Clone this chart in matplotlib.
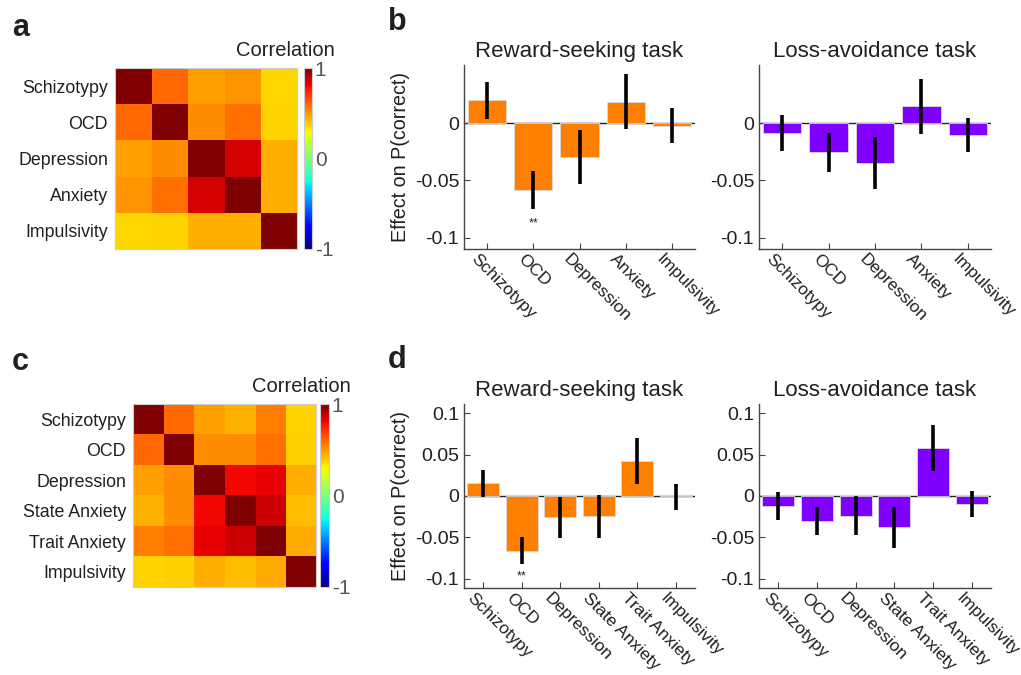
import numpy as np
import matplotlib
matplotlib.use("Agg")
import matplotlib.pyplot as plt
import matplotlib.transforms as mtrans

plt.rcParams['font.family'] = ['Liberation Sans', 'DejaVu Sans']

# correlation matrices
labels_a = ['Schizotypy', 'OCD', 'Depression', 'Anxiety', 'Impulsivity']
corr_a = [
    [1.00, 0.60, 0.48, 0.50, 0.36],
    [0.60, 1.00, 0.52, 0.58, 0.37],
    [0.48, 0.52, 1.00, 0.85, 0.45],
    [0.50, 0.58, 0.85, 1.00, 0.45],
    [0.36, 0.37, 0.45, 0.45, 1.00],
]

labels_c = ['Schizotypy', 'OCD', 'Depression', 'State Anxiety', 'Trait Anxiety', 'Impulsivity']
corr_c = [
    [1.00, 0.60, 0.48, 0.44, 0.55, 0.37],
    [0.60, 1.00, 0.52, 0.52, 0.58, 0.38],
    [0.48, 0.52, 1.00, 0.80, 0.82, 0.45],
    [0.44, 0.52, 0.80, 1.00, 0.86, 0.42],
    [0.55, 0.58, 0.82, 0.86, 1.00, 0.46],
    [0.37, 0.38, 0.45, 0.42, 0.46, 1.00],
]

# effects (bar value, error half-width)
reward_b = [0.020, -0.0585, -0.0295, 0.0190, -0.0020]
reward_b_err = [0.016, 0.0165, 0.024, 0.024, 0.015]
loss_b = [-0.0085, -0.0255, -0.0345, 0.0150, -0.0105]
loss_b_err = [0.016, 0.0167, 0.0228, 0.0240, 0.0147]

reward_d = [0.0153, -0.0658, -0.0257, -0.0245, 0.0422, -0.0012]
reward_d_err = [0.0165, 0.0168, 0.0248, 0.0262, 0.0283, 0.0155]
loss_d = [-0.0117, -0.0297, -0.0237, -0.0378, 0.0574, -0.0096]
loss_d_err = [0.0168, 0.0170, 0.0235, 0.0250, 0.0278, 0.0155]

ORANGE = '#FF8000'
PURPLE = '#8000FF'
TXT = '#231F20'
LAB = 12.5

fig = plt.figure(figsize=(10.21, 6.75), dpi=100)
W, H = 1021.0, 675.0


def px_axes(x0, y0, x1, y1):
    return fig.add_axes([x0 / W, 1 - y1 / H, (x1 - x0) / W, (y1 - y0) / H])


def heatmap(box, cbox, labels, mat, corr_xy):
    ax = px_axes(*box)
    im = ax.imshow(np.array(mat), cmap='jet', vmin=-1, vmax=1, aspect='auto')
    ax.set_xticks([])
    ax.set_yticks(range(len(labels)))
    ax.set_yticklabels(labels, fontsize=12.8, color=TXT)
    ax.tick_params(axis='y', length=0, pad=5)
    for s in ax.spines.values():
        s.set_color('#cccccc')
        s.set_linewidth(0.8)
    cax = px_axes(*cbox)
    cb = fig.colorbar(im, cax=cax, ticks=[-1, 0, 1])
    cb.ax.set_yticklabels(['-1', '0', '1'])
    cb.ax.tick_params(length=0, labelsize=15, labelcolor='#555555', pad=2)
    cb.outline.set_edgecolor('#cccccc')
    cb.outline.set_linewidth(0.8)
    fig.text(corr_xy[0] / W, 1 - corr_xy[1] / H, 'Correlation', ha='right',
             va='center', fontsize=14.5, color=TXT)


def bars(box, labels, vals, errs, color, ylim, yticks, ytl, title, ylabel, star=None):
    ax = px_axes(*box)
    x = np.arange(1, len(labels) + 1)
    ax.bar(x, vals, width=0.83, color=color, edgecolor='#d9d9d9', linewidth=0.6, zorder=2)
    ax.errorbar(x, vals, yerr=errs, fmt='none', ecolor='black', elinewidth=2.6,
                capsize=0, zorder=3)
    ax.axhline(0, color='#222222', linewidth=1.0, zorder=1)
    ax.set_xlim(0.5, len(labels) + 0.5)
    ax.set_ylim(*ylim)
    ax.set_yticks(yticks)
    ax.set_yticklabels(ytl)
    ax.set_xticks(x)
    ax.set_xticklabels(labels, rotation=-45, ha='left', va='top', rotation_mode='anchor')
    ax.tick_params(direction='in', length=4, width=0.8, colors='#444444',
                   labelsize=14, labelcolor=TXT)
    ax.tick_params(axis='x', pad=2, labelsize=LAB)
    shift = mtrans.ScaledTranslation(-8 / 100, 0, fig.dpi_scale_trans)
    for lab in ax.get_xticklabels():
        lab.set_transform(lab.get_transform() + shift)
    for s in ['top', 'right']:
        ax.spines[s].set_visible(False)
    for s in ['left', 'bottom']:
        ax.spines[s].set_color('#444444')
        ax.spines[s].set_linewidth(1.0)
    ax.set_title(title, fontsize=16, color=TXT, pad=6)
    if ylabel:
        ax.set_ylabel(ylabel, fontsize=14.2, color=TXT, labelpad=3)
    if star is not None:
        i = star
        ax.text(x[i], vals[i] - errs[i] - 0.007, '**', ha='center', va='top',
                fontsize=9, color=TXT)
    return ax


heatmap((115, 68, 297, 249), (304, 68, 312, 249), labels_a, corr_a, (335, 50))
heatmap((133, 404, 316, 587), (320, 404, 329, 587), labels_c, corr_c, (351, 387))

yt_b = [-0.1, -0.05, 0]
bars((464, 65, 695, 249), labels_a, reward_b, reward_b_err, ORANGE, (-0.11, 0.051),
     yt_b, ['-0.1', '-0.05', '0'], 'Reward-seeking task', 'Effect on P(correct)', star=1)
bars((759, 65, 991, 249), labels_a, loss_b, loss_b_err, PURPLE, (-0.11, 0.051),
     yt_b, ['-0.1', '-0.05', '0'], 'Loss-avoidance task', None)

yt_d = [-0.1, -0.05, 0, 0.05, 0.1]
ytl_d = ['-0.1', '-0.05', '0', '0.05', '0.1']
bars((464, 404, 695, 588), labels_c, reward_d, reward_d_err, ORANGE, (-0.111, 0.111),
     yt_d, ytl_d, 'Reward-seeking task', 'Effect on P(correct)', star=1)
bars((759, 404, 991, 588), labels_c, loss_d, loss_d_err, PURPLE, (-0.111, 0.111),
     yt_d, ytl_d, 'Loss-avoidance task', None)

for letter, (lx, ly) in {'a': (12, 28), 'b': (388, 22), 'c': (12, 362), 'd': (388, 360)}.items():
    fig.text(lx / W, 1 - ly / H, letter, fontsize=22, fontweight='bold', color=TXT,
             ha='left', va='center')

fig.savefig('out.png', dpi=100)
